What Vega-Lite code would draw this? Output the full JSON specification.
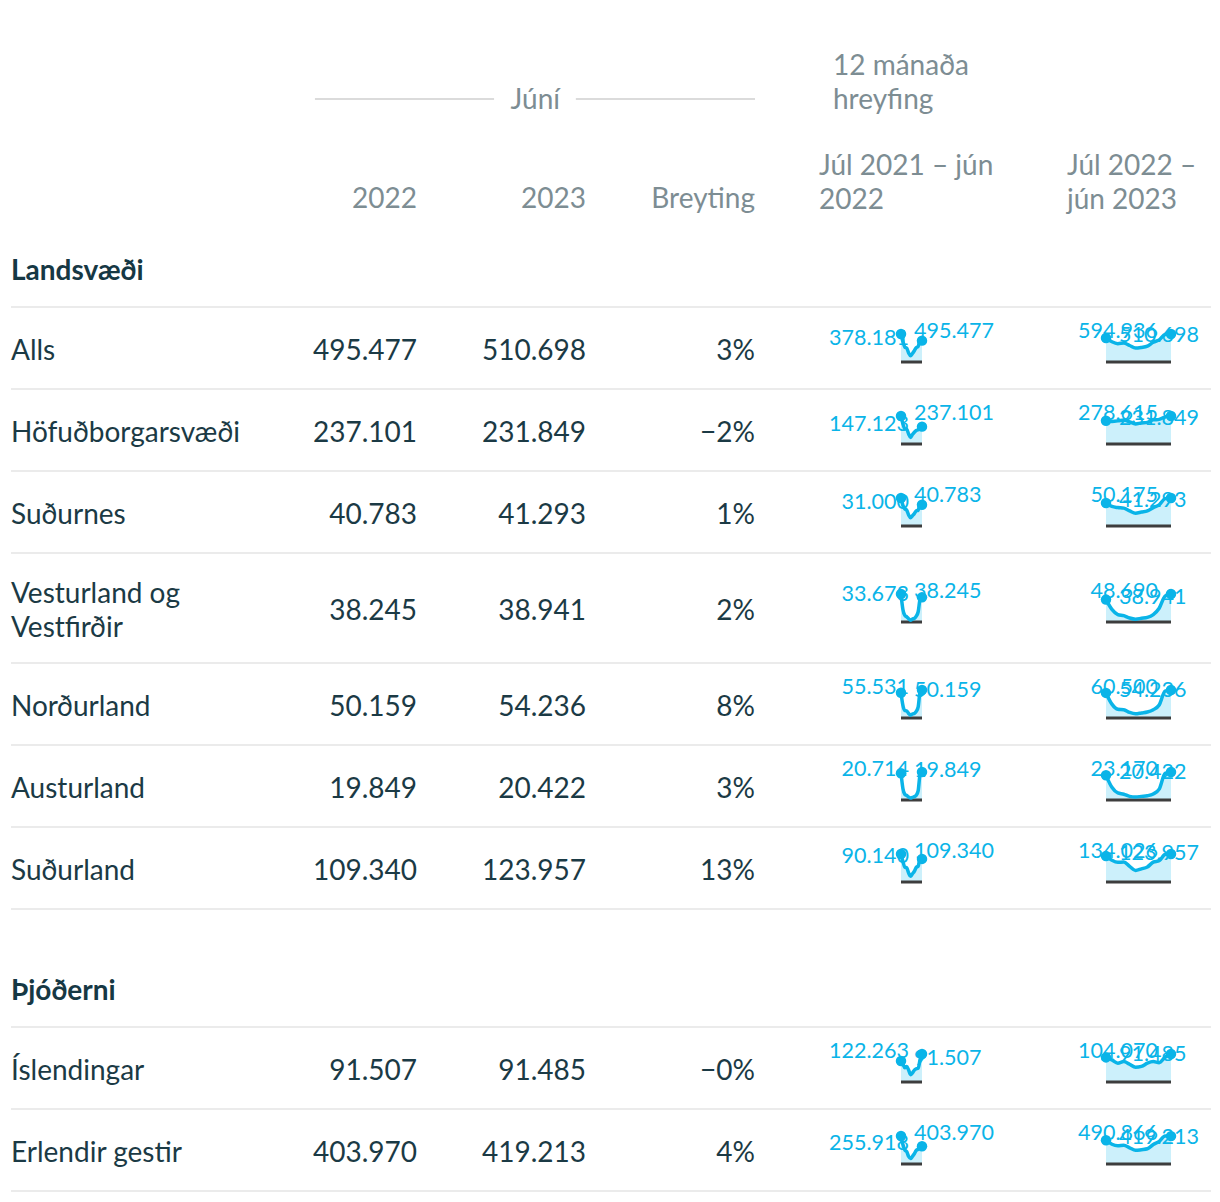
{
"$schema":"https://vega.github.io/schema/vega-lite/v6.json",
"background":"white",
"padding":{"left":10,"top":0,"right":0,"bottom":0},
"config":{"view":{"stroke":null},"axis":{"disable":true},
"text":{"font":"Lato","fontSize":28,"baseline":"middle","color":"#1b3a45","lineBreak":"\n","lineHeight":33.5},
"locale":{"number":{"decimal":",","thousands":".","grouping":[3],"currency":[""," kr."]}}},
"datasets":{
"tafla":[
{"nr":1,"s":"Alls","j22":495477,"j23":510698,"b":"3%"},
{"nr":2,"s":"Höfuðborgarsvæði","j22":237101,"j23":231849,"b":"−2%"},
{"nr":3,"s":"Suðurnes","j22":40783,"j23":41293,"b":"1%"},
{"nr":4,"s":"Vesturland og\nVestfirðir","j22":38245,"j23":38941,"b":"2%"},
{"nr":5,"s":"Norðurland","j22":50159,"j23":54236,"b":"8%"},
{"nr":6,"s":"Austurland","j22":19849,"j23":20422,"b":"3%"},
{"nr":7,"s":"Suðurland","j22":109340,"j23":123957,"b":"13%"},
{"nr":8,"s":"Íslendingar","j22":91507,"j23":91485,"b":"−0%"},
{"nr":9,"s":"Erlendir gestir","j22":403970,"j23":419213,"b":"4%"}
],
"spark":[
{"r":1,"p":1,"m":0,"v":378181},{"r":1,"p":1,"m":1,"v":390000},{"r":1,"p":1,"m":2,"v":275000},{"r":1,"p":1,"m":3,"v":255000},{"r":1,"p":1,"m":4,"v":200000},{"r":1,"p":1,"m":5,"v":150000},{"r":1,"p":1,"m":6,"v":110000},{"r":1,"p":1,"m":7,"v":160000},{"r":1,"p":1,"m":8,"v":245000},{"r":1,"p":1,"m":9,"v":265000},{"r":1,"p":1,"m":10,"v":360000},{"r":1,"p":1,"m":11,"v":495477},
{"r":1,"p":2,"m":0,"v":594936},{"r":1,"p":2,"m":1,"v":585000},{"r":1,"p":2,"m":2,"v":470000},{"r":1,"p":2,"m":3,"v":420000},{"r":1,"p":2,"m":4,"v":338000},{"r":1,"p":2,"m":5,"v":310000},{"r":1,"p":2,"m":6,"v":295000},{"r":1,"p":2,"m":7,"v":351000},{"r":1,"p":2,"m":8,"v":406000},{"r":1,"p":2,"m":9,"v":390000},{"r":1,"p":2,"m":10,"v":430000},{"r":1,"p":2,"m":11,"v":510698},
{"r":2,"p":1,"m":0,"v":147123},{"r":2,"p":1,"m":1,"v":160000},{"r":2,"p":1,"m":2,"v":120000},{"r":2,"p":1,"m":3,"v":115000},{"r":2,"p":1,"m":4,"v":100000},{"r":2,"p":1,"m":5,"v":80000},{"r":2,"p":1,"m":6,"v":55000},{"r":2,"p":1,"m":7,"v":85000},{"r":2,"p":1,"m":8,"v":125000},{"r":2,"p":1,"m":9,"v":130000},{"r":2,"p":1,"m":10,"v":170000},{"r":2,"p":1,"m":11,"v":237101},
{"r":2,"p":2,"m":0,"v":278615},{"r":2,"p":2,"m":1,"v":270000},{"r":2,"p":2,"m":2,"v":245000},{"r":2,"p":2,"m":3,"v":240000},{"r":2,"p":2,"m":4,"v":215000},{"r":2,"p":2,"m":5,"v":210000},{"r":2,"p":2,"m":6,"v":200000},{"r":2,"p":2,"m":7,"v":220000},{"r":2,"p":2,"m":8,"v":240000},{"r":2,"p":2,"m":9,"v":230000},{"r":2,"p":2,"m":10,"v":225000},{"r":2,"p":2,"m":11,"v":231849},
{"r":3,"p":1,"m":0,"v":31000},{"r":3,"p":1,"m":1,"v":32000},{"r":3,"p":1,"m":2,"v":23000},{"r":3,"p":1,"m":3,"v":22000},{"r":3,"p":1,"m":4,"v":18000},{"r":3,"p":1,"m":5,"v":15000},{"r":3,"p":1,"m":6,"v":12000},{"r":3,"p":1,"m":7,"v":16000},{"r":3,"p":1,"m":8,"v":23000},{"r":3,"p":1,"m":9,"v":25000},{"r":3,"p":1,"m":10,"v":30000},{"r":3,"p":1,"m":11,"v":40783},
{"r":3,"p":2,"m":0,"v":50175},{"r":3,"p":2,"m":1,"v":49000},{"r":3,"p":2,"m":2,"v":38000},{"r":3,"p":2,"m":3,"v":33000},{"r":3,"p":2,"m":4,"v":27000},{"r":3,"p":2,"m":5,"v":25000},{"r":3,"p":2,"m":6,"v":23000},{"r":3,"p":2,"m":7,"v":27000},{"r":3,"p":2,"m":8,"v":32000},{"r":3,"p":2,"m":9,"v":33000},{"r":3,"p":2,"m":10,"v":35000},{"r":3,"p":2,"m":11,"v":41293},
{"r":4,"p":1,"m":0,"v":33673},{"r":4,"p":1,"m":1,"v":31000},{"r":4,"p":1,"m":2,"v":14000},{"r":4,"p":1,"m":3,"v":8000},{"r":4,"p":1,"m":4,"v":5000},{"r":4,"p":1,"m":5,"v":4000},{"r":4,"p":1,"m":6,"v":2500},{"r":4,"p":1,"m":7,"v":4500},{"r":4,"p":1,"m":8,"v":7000},{"r":4,"p":1,"m":9,"v":9000},{"r":4,"p":1,"m":10,"v":17000},{"r":4,"p":1,"m":11,"v":38245},
{"r":4,"p":2,"m":0,"v":48690},{"r":4,"p":2,"m":1,"v":45000},{"r":4,"p":2,"m":2,"v":24000},{"r":4,"p":2,"m":3,"v":13000},{"r":4,"p":2,"m":4,"v":8000},{"r":4,"p":2,"m":5,"v":6500},{"r":4,"p":2,"m":6,"v":5000},{"r":4,"p":2,"m":7,"v":7000},{"r":4,"p":2,"m":8,"v":11000},{"r":4,"p":2,"m":9,"v":13000},{"r":4,"p":2,"m":10,"v":22000},{"r":4,"p":2,"m":11,"v":38941},
{"r":5,"p":1,"m":0,"v":55531},{"r":5,"p":1,"m":1,"v":52000},{"r":5,"p":1,"m":2,"v":22000},{"r":5,"p":1,"m":3,"v":13000},{"r":5,"p":1,"m":4,"v":9000},{"r":5,"p":1,"m":5,"v":8000},{"r":5,"p":1,"m":6,"v":5500},{"r":5,"p":1,"m":7,"v":9000},{"r":5,"p":1,"m":8,"v":14000},{"r":5,"p":1,"m":9,"v":15000},{"r":5,"p":1,"m":10,"v":25000},{"r":5,"p":1,"m":11,"v":50159},
{"r":5,"p":2,"m":0,"v":60500},{"r":5,"p":2,"m":1,"v":58000},{"r":5,"p":2,"m":2,"v":28000},{"r":5,"p":2,"m":3,"v":18000},{"r":5,"p":2,"m":4,"v":13000},{"r":5,"p":2,"m":5,"v":11000},{"r":5,"p":2,"m":6,"v":9000},{"r":5,"p":2,"m":7,"v":12000},{"r":5,"p":2,"m":8,"v":18000},{"r":5,"p":2,"m":9,"v":19000},{"r":5,"p":2,"m":10,"v":30000},{"r":5,"p":2,"m":11,"v":54236},
{"r":6,"p":1,"m":0,"v":20714},{"r":6,"p":1,"m":1,"v":19000},{"r":6,"p":1,"m":2,"v":7000},{"r":6,"p":1,"m":3,"v":3500},{"r":6,"p":1,"m":4,"v":2500},{"r":6,"p":1,"m":5,"v":2000},{"r":6,"p":1,"m":6,"v":1400},{"r":6,"p":1,"m":7,"v":2200},{"r":6,"p":1,"m":8,"v":3300},{"r":6,"p":1,"m":9,"v":4200},{"r":6,"p":1,"m":10,"v":8500},{"r":6,"p":1,"m":11,"v":19849},
{"r":6,"p":2,"m":0,"v":23170},{"r":6,"p":2,"m":1,"v":22000},{"r":6,"p":2,"m":2,"v":9000},{"r":6,"p":2,"m":3,"v":5000},{"r":6,"p":2,"m":4,"v":3500},{"r":6,"p":2,"m":5,"v":3000},{"r":6,"p":2,"m":6,"v":2500},{"r":6,"p":2,"m":7,"v":3000},{"r":6,"p":2,"m":8,"v":4800},{"r":6,"p":2,"m":9,"v":5800},{"r":6,"p":2,"m":10,"v":10500},{"r":6,"p":2,"m":11,"v":20422},
{"r":7,"p":1,"m":0,"v":90140},{"r":7,"p":1,"m":1,"v":92000},{"r":7,"p":1,"m":2,"v":62000},{"r":7,"p":1,"m":3,"v":57000},{"r":7,"p":1,"m":4,"v":42000},{"r":7,"p":1,"m":5,"v":32000},{"r":7,"p":1,"m":6,"v":22000},{"r":7,"p":1,"m":7,"v":35000},{"r":7,"p":1,"m":8,"v":55000},{"r":7,"p":1,"m":9,"v":58000},{"r":7,"p":1,"m":10,"v":80000},{"r":7,"p":1,"m":11,"v":109340},
{"r":7,"p":2,"m":0,"v":134026},{"r":7,"p":2,"m":1,"v":132000},{"r":7,"p":2,"m":2,"v":102000},{"r":7,"p":2,"m":3,"v":95000},{"r":7,"p":2,"m":4,"v":72000},{"r":7,"p":2,"m":5,"v":63000},{"r":7,"p":2,"m":6,"v":55000},{"r":7,"p":2,"m":7,"v":75000},{"r":7,"p":2,"m":8,"v":96000},{"r":7,"p":2,"m":9,"v":94000},{"r":7,"p":2,"m":10,"v":104000},{"r":7,"p":2,"m":11,"v":123957},
{"r":8,"p":1,"m":0,"v":122263},{"r":8,"p":1,"m":1,"v":98000},{"r":8,"p":1,"m":2,"v":60000},{"r":8,"p":1,"m":3,"v":58000},{"r":8,"p":1,"m":4,"v":52000},{"r":8,"p":1,"m":5,"v":40000},{"r":8,"p":1,"m":6,"v":32000},{"r":8,"p":1,"m":7,"v":52000},{"r":8,"p":1,"m":8,"v":68000},{"r":8,"p":1,"m":9,"v":62000},{"r":8,"p":1,"m":10,"v":78000},{"r":8,"p":1,"m":11,"v":91507},
{"r":8,"p":2,"m":0,"v":104070},{"r":8,"p":2,"m":1,"v":92000},{"r":8,"p":2,"m":2,"v":72000},{"r":8,"p":2,"m":3,"v":76000},{"r":8,"p":2,"m":4,"v":70000},{"r":8,"p":2,"m":5,"v":58000},{"r":8,"p":2,"m":6,"v":55000},{"r":8,"p":2,"m":7,"v":66000},{"r":8,"p":2,"m":8,"v":76000},{"r":8,"p":2,"m":9,"v":70000},{"r":8,"p":2,"m":10,"v":82000},{"r":8,"p":2,"m":11,"v":91485},
{"r":9,"p":1,"m":0,"v":255918},{"r":9,"p":1,"m":1,"v":292000},{"r":9,"p":1,"m":2,"v":215000},{"r":9,"p":1,"m":3,"v":197000},{"r":9,"p":1,"m":4,"v":148000},{"r":9,"p":1,"m":5,"v":110000},{"r":9,"p":1,"m":6,"v":78000},{"r":9,"p":1,"m":7,"v":108000},{"r":9,"p":1,"m":8,"v":177000},{"r":9,"p":1,"m":9,"v":203000},{"r":9,"p":1,"m":10,"v":282000},{"r":9,"p":1,"m":11,"v":403970},
{"r":9,"p":2,"m":0,"v":490866},{"r":9,"p":2,"m":1,"v":493000},{"r":9,"p":2,"m":2,"v":398000},{"r":9,"p":2,"m":3,"v":344000},{"r":9,"p":2,"m":4,"v":268000},{"r":9,"p":2,"m":5,"v":252000},{"r":9,"p":2,"m":6,"v":240000},{"r":9,"p":2,"m":7,"v":285000},{"r":9,"p":2,"m":8,"v":330000},{"r":9,"p":2,"m":9,"v":320000},{"r":9,"p":2,"m":10,"v":348000},{"r":9,"p":2,"m":11,"v":419213}
]},
"spacing":0,
"vconcat":[
{"hconcat":[
 {"width":744,"height":230,"layer":[
  {"data":{"values":[{"t":"2022"},{"t":"2023"},{"t":"Breyting"}]},"mark":{"type":"text","align":"right","baseline":"top","color":"#7d8d93"},"encoding":{"x":{"field":"t","type":"nominal","bandPosition":1,"scale":{"type":"band","domain":["2022","2023","Breyting"],"paddingInner":0,"paddingOuter":0.7012,"align":1}},"y":{"datum":"e","bandPosition":0,"scale":{"type":"band","domain":["a","b","c","d","e"],"paddingInner":0,"paddingOuter":0.9586,"align":0.8376}},"text":{"field":"t"}}},
  {"data":{"values":[{"t":"Júní"}]},"mark":{"type":"text","align":"center","baseline":"top","color":"#7d8d93"},"encoding":{"x":{"datum":"2023","bandPosition":0.7},"y":{"datum":"b","bandPosition":0},"text":{"field":"t"}}},
  {"data":{"values":[{}]},"mark":{"type":"rule","color":"#cfcfcf","strokeWidth":1.5},"encoding":{"x":{"datum":"2022","bandPosition":0.396},"x2":{"datum":"2023","bandPosition":0.456},"y":{"datum":"b","bandPosition":0.37}}},
  {"data":{"values":[{}]},"mark":{"type":"rule","color":"#cfcfcf","strokeWidth":1.5},"encoding":{"x":{"datum":"2023","bandPosition":0.94},"x2":{"datum":"Breyting","bandPosition":1},"y":{"datum":"b","bandPosition":0.37}}}
 ]},
 {"width":65,"height":230,"data":{"values":[]},"mark":"point"},
 {"width":248,"height":230,"layer":[
  {"data":{"values":[{"t":"12 mánaða\nhreyfing"}]},"mark":{"type":"text","align":"left","baseline":"top","color":"#7d8d93","dx":13},"encoding":{"x":{"value":0},"y":{"datum":"a","bandPosition":0,"scale":{"type":"band","domain":["a","b","c","d","e"],"paddingInner":0,"paddingOuter":0.9586,"align":0.8376}},"text":{"field":"t"}}},
  {"data":{"values":[{"t":"Júl 2021 – jún\n2022"}]},"mark":{"type":"text","align":"left","baseline":"top","color":"#7d8d93","dx":-1},"encoding":{"x":{"value":0},"y":{"datum":"d","bandPosition":0},"text":{"field":"t"}}}
 ]},
 {"width":143,"height":230,"layer":[
  {"data":{"values":[{"t":"Júl 2022 –\njún 2023"}]},"mark":{"type":"text","align":"left","baseline":"top","color":"#7d8d93","dx":-1},"encoding":{"x":{"value":0},"y":{"datum":"d","bandPosition":0,"scale":{"type":"band","domain":["a","b","c","d","e"],"paddingInner":0,"paddingOuter":0.9586,"align":0.8376}},"text":{"field":"t"}}}
 ]}
],"spacing":0,"bounds":"flush"},
{"width":744,"height":76,"data":{"values":[{"t":"Landsvæði"}]},"mark":{"type":"text","align":"left","fontWeight":"bold","fontSize":28,"dy":4,"color":"#163844"},"encoding":{"x":{"value":0},"text":{"field":"t"}}},
{"width":1200,"height":2,"data":{"values":[{}]},"mark":{"type":"rule","color":"#ebebeb","strokeWidth":2},"encoding":{"y":{"value":1}}},
{"hconcat":[
 {"width":744,"height":80,"data":{"name":"tafla"},"transform":[{"filter":"datum.nr==1"}],"layer":[
  {"mark":{"type":"text","align":"left","dy":4},"encoding":{"x":{"value":0},"text":{"field":"s"}}},
  {"mark":{"type":"text","align":"right","dy":4},"encoding":{"x":{"datum":"2022","bandPosition":1,"scale":{"type":"band","domain":["2022","2023","Breyting"],"paddingInner":0,"paddingOuter":0.7012,"align":1}},"text":{"field":"j22","type":"quantitative","format":",.0f"}}},
  {"mark":{"type":"text","align":"right","dy":4},"encoding":{"x":{"datum":"2023","bandPosition":1},"text":{"field":"j23","type":"quantitative","format":",.0f"}}},
  {"mark":{"type":"text","align":"right","dy":4},"encoding":{"x":{"datum":"Breyting","bandPosition":1},"text":{"field":"b"}}}]},
 {"width":146,"height":28,"data":{"values":[]},"mark":"point"},
 {"width":21,"height":28,"data":{"name":"spark"},"transform":[{"filter":"datum.r==1&&datum.p==1"}],"encoding":{"x":{"field":"m","type":"quantitative","scale":{"domain":[0,11],"reverse":true,"nice":false}},"y":{"field":"v","type":"quantitative","scale":{"zero":true,"nice":false}}},"layer":[
  {"mark":{"type":"area","color":"#ccf0fb","interpolate":"monotone"}},
  {"transform":[{"filter":"datum.m==0"}],"mark":{"type":"rule","color":"#3d3d3d","strokeWidth":3},"encoding":{"x":{"datum":0},"x2":{"datum":11},"y":{"datum":0}}},
  {"mark":{"type":"line","color":"#0ab4e8","strokeWidth":3.5,"interpolate":"monotone"}},
  {"transform":[{"filter":"datum.m==0||datum.m==11"}],"mark":{"type":"circle","color":"#0ab4e8","size":110,"opacity":1}},
  {"transform":[{"filter":"datum.m==0"}],"mark":{"type":"text","align":"right","dx":-13,"dy":-2,"fontSize":21.5,"color":"#0ab4e8"},"encoding":{"text":{"field":"v","type":"quantitative","format":",.0f"}}},
  {"transform":[{"filter":"datum.m==11"}],"mark":{"type":"text","align":"left","dx":13,"dy":-2,"fontSize":21.5,"color":"#0ab4e8"},"encoding":{"text":{"field":"v","type":"quantitative","format":",.0f"}}}]},
 {"width":184,"height":28,"data":{"values":[]},"mark":"point"},
 {"width":65,"height":28,"data":{"name":"spark"},"transform":[{"filter":"datum.r==1&&datum.p==2"}],"encoding":{"x":{"field":"m","type":"quantitative","scale":{"domain":[0,11],"reverse":true,"nice":false}},"y":{"field":"v","type":"quantitative","scale":{"zero":true,"nice":false}}},"layer":[
  {"mark":{"type":"area","color":"#ccf0fb","interpolate":"monotone"}},
  {"transform":[{"filter":"datum.m==0"}],"mark":{"type":"rule","color":"#3d3d3d","strokeWidth":3},"encoding":{"x":{"datum":0},"x2":{"datum":11},"y":{"datum":0}}},
  {"mark":{"type":"line","color":"#0ab4e8","strokeWidth":3.5,"interpolate":"monotone"}},
  {"transform":[{"filter":"datum.m==0||datum.m==11"}],"mark":{"type":"circle","color":"#0ab4e8","size":110,"opacity":1}},
  {"transform":[{"filter":"datum.m==0"}],"mark":{"type":"text","align":"right","dx":-13,"dy":-2,"fontSize":21.5,"color":"#0ab4e8"},"encoding":{"text":{"field":"v","type":"quantitative","format":",.0f"}}},
  {"transform":[{"filter":"datum.m==11"}],"mark":{"type":"text","align":"left","dx":13,"dy":-2,"fontSize":21.5,"color":"#0ab4e8"},"encoding":{"text":{"field":"v","type":"quantitative","format":",.0f"}}}]}
],"spacing":0,"bounds":"flush","center":true},
{"width":1200,"height":2,"data":{"values":[{}]},"mark":{"type":"rule","color":"#ebebeb","strokeWidth":2},"encoding":{"y":{"value":1}}},
{"hconcat":[
 {"width":744,"height":80,"data":{"name":"tafla"},"transform":[{"filter":"datum.nr==2"}],"layer":[
  {"mark":{"type":"text","align":"left","dy":4},"encoding":{"x":{"value":0},"text":{"field":"s"}}},
  {"mark":{"type":"text","align":"right","dy":4},"encoding":{"x":{"datum":"2022","bandPosition":1,"scale":{"type":"band","domain":["2022","2023","Breyting"],"paddingInner":0,"paddingOuter":0.7012,"align":1}},"text":{"field":"j22","type":"quantitative","format":",.0f"}}},
  {"mark":{"type":"text","align":"right","dy":4},"encoding":{"x":{"datum":"2023","bandPosition":1},"text":{"field":"j23","type":"quantitative","format":",.0f"}}},
  {"mark":{"type":"text","align":"right","dy":4},"encoding":{"x":{"datum":"Breyting","bandPosition":1},"text":{"field":"b"}}}]},
 {"width":146,"height":28,"data":{"values":[]},"mark":"point"},
 {"width":21,"height":28,"data":{"name":"spark"},"transform":[{"filter":"datum.r==2&&datum.p==1"}],"encoding":{"x":{"field":"m","type":"quantitative","scale":{"domain":[0,11],"reverse":true,"nice":false}},"y":{"field":"v","type":"quantitative","scale":{"zero":true,"nice":false}}},"layer":[
  {"mark":{"type":"area","color":"#ccf0fb","interpolate":"monotone"}},
  {"transform":[{"filter":"datum.m==0"}],"mark":{"type":"rule","color":"#3d3d3d","strokeWidth":3},"encoding":{"x":{"datum":0},"x2":{"datum":11},"y":{"datum":0}}},
  {"mark":{"type":"line","color":"#0ab4e8","strokeWidth":3.5,"interpolate":"monotone"}},
  {"transform":[{"filter":"datum.m==0||datum.m==11"}],"mark":{"type":"circle","color":"#0ab4e8","size":110,"opacity":1}},
  {"transform":[{"filter":"datum.m==0"}],"mark":{"type":"text","align":"right","dx":-13,"dy":-2,"fontSize":21.5,"color":"#0ab4e8"},"encoding":{"text":{"field":"v","type":"quantitative","format":",.0f"}}},
  {"transform":[{"filter":"datum.m==11"}],"mark":{"type":"text","align":"left","dx":13,"dy":-2,"fontSize":21.5,"color":"#0ab4e8"},"encoding":{"text":{"field":"v","type":"quantitative","format":",.0f"}}}]},
 {"width":184,"height":28,"data":{"values":[]},"mark":"point"},
 {"width":65,"height":28,"data":{"name":"spark"},"transform":[{"filter":"datum.r==2&&datum.p==2"}],"encoding":{"x":{"field":"m","type":"quantitative","scale":{"domain":[0,11],"reverse":true,"nice":false}},"y":{"field":"v","type":"quantitative","scale":{"zero":true,"nice":false}}},"layer":[
  {"mark":{"type":"area","color":"#ccf0fb","interpolate":"monotone"}},
  {"transform":[{"filter":"datum.m==0"}],"mark":{"type":"rule","color":"#3d3d3d","strokeWidth":3},"encoding":{"x":{"datum":0},"x2":{"datum":11},"y":{"datum":0}}},
  {"mark":{"type":"line","color":"#0ab4e8","strokeWidth":3.5,"interpolate":"monotone"}},
  {"transform":[{"filter":"datum.m==0||datum.m==11"}],"mark":{"type":"circle","color":"#0ab4e8","size":110,"opacity":1}},
  {"transform":[{"filter":"datum.m==0"}],"mark":{"type":"text","align":"right","dx":-13,"dy":-2,"fontSize":21.5,"color":"#0ab4e8"},"encoding":{"text":{"field":"v","type":"quantitative","format":",.0f"}}},
  {"transform":[{"filter":"datum.m==11"}],"mark":{"type":"text","align":"left","dx":13,"dy":-2,"fontSize":21.5,"color":"#0ab4e8"},"encoding":{"text":{"field":"v","type":"quantitative","format":",.0f"}}}]}
],"spacing":0,"bounds":"flush","center":true},
{"width":1200,"height":2,"data":{"values":[{}]},"mark":{"type":"rule","color":"#ebebeb","strokeWidth":2},"encoding":{"y":{"value":1}}},
{"hconcat":[
 {"width":744,"height":80,"data":{"name":"tafla"},"transform":[{"filter":"datum.nr==3"}],"layer":[
  {"mark":{"type":"text","align":"left","dy":4},"encoding":{"x":{"value":0},"text":{"field":"s"}}},
  {"mark":{"type":"text","align":"right","dy":4},"encoding":{"x":{"datum":"2022","bandPosition":1,"scale":{"type":"band","domain":["2022","2023","Breyting"],"paddingInner":0,"paddingOuter":0.7012,"align":1}},"text":{"field":"j22","type":"quantitative","format":",.0f"}}},
  {"mark":{"type":"text","align":"right","dy":4},"encoding":{"x":{"datum":"2023","bandPosition":1},"text":{"field":"j23","type":"quantitative","format":",.0f"}}},
  {"mark":{"type":"text","align":"right","dy":4},"encoding":{"x":{"datum":"Breyting","bandPosition":1},"text":{"field":"b"}}}]},
 {"width":146,"height":28,"data":{"values":[]},"mark":"point"},
 {"width":21,"height":28,"data":{"name":"spark"},"transform":[{"filter":"datum.r==3&&datum.p==1"}],"encoding":{"x":{"field":"m","type":"quantitative","scale":{"domain":[0,11],"reverse":true,"nice":false}},"y":{"field":"v","type":"quantitative","scale":{"zero":true,"nice":false}}},"layer":[
  {"mark":{"type":"area","color":"#ccf0fb","interpolate":"monotone"}},
  {"transform":[{"filter":"datum.m==0"}],"mark":{"type":"rule","color":"#3d3d3d","strokeWidth":3},"encoding":{"x":{"datum":0},"x2":{"datum":11},"y":{"datum":0}}},
  {"mark":{"type":"line","color":"#0ab4e8","strokeWidth":3.5,"interpolate":"monotone"}},
  {"transform":[{"filter":"datum.m==0||datum.m==11"}],"mark":{"type":"circle","color":"#0ab4e8","size":110,"opacity":1}},
  {"transform":[{"filter":"datum.m==0"}],"mark":{"type":"text","align":"right","dx":-13,"dy":-2,"fontSize":21.5,"color":"#0ab4e8"},"encoding":{"text":{"field":"v","type":"quantitative","format":",.0f"}}},
  {"transform":[{"filter":"datum.m==11"}],"mark":{"type":"text","align":"left","dx":13,"dy":-2,"fontSize":21.5,"color":"#0ab4e8"},"encoding":{"text":{"field":"v","type":"quantitative","format":",.0f"}}}]},
 {"width":184,"height":28,"data":{"values":[]},"mark":"point"},
 {"width":65,"height":28,"data":{"name":"spark"},"transform":[{"filter":"datum.r==3&&datum.p==2"}],"encoding":{"x":{"field":"m","type":"quantitative","scale":{"domain":[0,11],"reverse":true,"nice":false}},"y":{"field":"v","type":"quantitative","scale":{"zero":true,"nice":false}}},"layer":[
  {"mark":{"type":"area","color":"#ccf0fb","interpolate":"monotone"}},
  {"transform":[{"filter":"datum.m==0"}],"mark":{"type":"rule","color":"#3d3d3d","strokeWidth":3},"encoding":{"x":{"datum":0},"x2":{"datum":11},"y":{"datum":0}}},
  {"mark":{"type":"line","color":"#0ab4e8","strokeWidth":3.5,"interpolate":"monotone"}},
  {"transform":[{"filter":"datum.m==0||datum.m==11"}],"mark":{"type":"circle","color":"#0ab4e8","size":110,"opacity":1}},
  {"transform":[{"filter":"datum.m==0"}],"mark":{"type":"text","align":"right","dx":-13,"dy":-2,"fontSize":21.5,"color":"#0ab4e8"},"encoding":{"text":{"field":"v","type":"quantitative","format":",.0f"}}},
  {"transform":[{"filter":"datum.m==11"}],"mark":{"type":"text","align":"left","dx":13,"dy":-2,"fontSize":21.5,"color":"#0ab4e8"},"encoding":{"text":{"field":"v","type":"quantitative","format":",.0f"}}}]}
],"spacing":0,"bounds":"flush","center":true},
{"width":1200,"height":2,"data":{"values":[{}]},"mark":{"type":"rule","color":"#ebebeb","strokeWidth":2},"encoding":{"y":{"value":1}}},
{"hconcat":[
 {"width":744,"height":108,"data":{"name":"tafla"},"transform":[{"filter":"datum.nr==4"}],"layer":[
  {"mark":{"type":"text","align":"left","dy":-13},"encoding":{"x":{"value":0},"text":{"field":"s"}}},
  {"mark":{"type":"text","align":"right","dy":4},"encoding":{"x":{"datum":"2022","bandPosition":1,"scale":{"type":"band","domain":["2022","2023","Breyting"],"paddingInner":0,"paddingOuter":0.7012,"align":1}},"text":{"field":"j22","type":"quantitative","format":",.0f"}}},
  {"mark":{"type":"text","align":"right","dy":4},"encoding":{"x":{"datum":"2023","bandPosition":1},"text":{"field":"j23","type":"quantitative","format":",.0f"}}},
  {"mark":{"type":"text","align":"right","dy":4},"encoding":{"x":{"datum":"Breyting","bandPosition":1},"text":{"field":"b"}}}]},
 {"width":146,"height":28,"data":{"values":[]},"mark":"point"},
 {"width":21,"height":28,"data":{"name":"spark"},"transform":[{"filter":"datum.r==4&&datum.p==1"}],"encoding":{"x":{"field":"m","type":"quantitative","scale":{"domain":[0,11],"reverse":true,"nice":false}},"y":{"field":"v","type":"quantitative","scale":{"zero":true,"nice":false}}},"layer":[
  {"mark":{"type":"area","color":"#ccf0fb","interpolate":"monotone"}},
  {"transform":[{"filter":"datum.m==0"}],"mark":{"type":"rule","color":"#3d3d3d","strokeWidth":3},"encoding":{"x":{"datum":0},"x2":{"datum":11},"y":{"datum":0}}},
  {"mark":{"type":"line","color":"#0ab4e8","strokeWidth":3.5,"interpolate":"monotone"}},
  {"transform":[{"filter":"datum.m==0||datum.m==11"}],"mark":{"type":"circle","color":"#0ab4e8","size":110,"opacity":1}},
  {"transform":[{"filter":"datum.m==0"}],"mark":{"type":"text","align":"right","dx":-13,"dy":-2,"fontSize":21.5,"color":"#0ab4e8"},"encoding":{"text":{"field":"v","type":"quantitative","format":",.0f"}}},
  {"transform":[{"filter":"datum.m==11"}],"mark":{"type":"text","align":"left","dx":13,"dy":-2,"fontSize":21.5,"color":"#0ab4e8"},"encoding":{"text":{"field":"v","type":"quantitative","format":",.0f"}}}]},
 {"width":184,"height":28,"data":{"values":[]},"mark":"point"},
 {"width":65,"height":28,"data":{"name":"spark"},"transform":[{"filter":"datum.r==4&&datum.p==2"}],"encoding":{"x":{"field":"m","type":"quantitative","scale":{"domain":[0,11],"reverse":true,"nice":false}},"y":{"field":"v","type":"quantitative","scale":{"zero":true,"nice":false}}},"layer":[
  {"mark":{"type":"area","color":"#ccf0fb","interpolate":"monotone"}},
  {"transform":[{"filter":"datum.m==0"}],"mark":{"type":"rule","color":"#3d3d3d","strokeWidth":3},"encoding":{"x":{"datum":0},"x2":{"datum":11},"y":{"datum":0}}},
  {"mark":{"type":"line","color":"#0ab4e8","strokeWidth":3.5,"interpolate":"monotone"}},
  {"transform":[{"filter":"datum.m==0||datum.m==11"}],"mark":{"type":"circle","color":"#0ab4e8","size":110,"opacity":1}},
  {"transform":[{"filter":"datum.m==0"}],"mark":{"type":"text","align":"right","dx":-13,"dy":-2,"fontSize":21.5,"color":"#0ab4e8"},"encoding":{"text":{"field":"v","type":"quantitative","format":",.0f"}}},
  {"transform":[{"filter":"datum.m==11"}],"mark":{"type":"text","align":"left","dx":13,"dy":-2,"fontSize":21.5,"color":"#0ab4e8"},"encoding":{"text":{"field":"v","type":"quantitative","format":",.0f"}}}]}
],"spacing":0,"bounds":"flush","center":true},
{"width":1200,"height":2,"data":{"values":[{}]},"mark":{"type":"rule","color":"#ebebeb","strokeWidth":2},"encoding":{"y":{"value":1}}},
{"hconcat":[
 {"width":744,"height":80,"data":{"name":"tafla"},"transform":[{"filter":"datum.nr==5"}],"layer":[
  {"mark":{"type":"text","align":"left","dy":4},"encoding":{"x":{"value":0},"text":{"field":"s"}}},
  {"mark":{"type":"text","align":"right","dy":4},"encoding":{"x":{"datum":"2022","bandPosition":1,"scale":{"type":"band","domain":["2022","2023","Breyting"],"paddingInner":0,"paddingOuter":0.7012,"align":1}},"text":{"field":"j22","type":"quantitative","format":",.0f"}}},
  {"mark":{"type":"text","align":"right","dy":4},"encoding":{"x":{"datum":"2023","bandPosition":1},"text":{"field":"j23","type":"quantitative","format":",.0f"}}},
  {"mark":{"type":"text","align":"right","dy":4},"encoding":{"x":{"datum":"Breyting","bandPosition":1},"text":{"field":"b"}}}]},
 {"width":146,"height":28,"data":{"values":[]},"mark":"point"},
 {"width":21,"height":28,"data":{"name":"spark"},"transform":[{"filter":"datum.r==5&&datum.p==1"}],"encoding":{"x":{"field":"m","type":"quantitative","scale":{"domain":[0,11],"reverse":true,"nice":false}},"y":{"field":"v","type":"quantitative","scale":{"zero":true,"nice":false}}},"layer":[
  {"mark":{"type":"area","color":"#ccf0fb","interpolate":"monotone"}},
  {"transform":[{"filter":"datum.m==0"}],"mark":{"type":"rule","color":"#3d3d3d","strokeWidth":3},"encoding":{"x":{"datum":0},"x2":{"datum":11},"y":{"datum":0}}},
  {"mark":{"type":"line","color":"#0ab4e8","strokeWidth":3.5,"interpolate":"monotone"}},
  {"transform":[{"filter":"datum.m==0||datum.m==11"}],"mark":{"type":"circle","color":"#0ab4e8","size":110,"opacity":1}},
  {"transform":[{"filter":"datum.m==0"}],"mark":{"type":"text","align":"right","dx":-13,"dy":-2,"fontSize":21.5,"color":"#0ab4e8"},"encoding":{"text":{"field":"v","type":"quantitative","format":",.0f"}}},
  {"transform":[{"filter":"datum.m==11"}],"mark":{"type":"text","align":"left","dx":13,"dy":-2,"fontSize":21.5,"color":"#0ab4e8"},"encoding":{"text":{"field":"v","type":"quantitative","format":",.0f"}}}]},
 {"width":184,"height":28,"data":{"values":[]},"mark":"point"},
 {"width":65,"height":28,"data":{"name":"spark"},"transform":[{"filter":"datum.r==5&&datum.p==2"}],"encoding":{"x":{"field":"m","type":"quantitative","scale":{"domain":[0,11],"reverse":true,"nice":false}},"y":{"field":"v","type":"quantitative","scale":{"zero":true,"nice":false}}},"layer":[
  {"mark":{"type":"area","color":"#ccf0fb","interpolate":"monotone"}},
  {"transform":[{"filter":"datum.m==0"}],"mark":{"type":"rule","color":"#3d3d3d","strokeWidth":3},"encoding":{"x":{"datum":0},"x2":{"datum":11},"y":{"datum":0}}},
  {"mark":{"type":"line","color":"#0ab4e8","strokeWidth":3.5,"interpolate":"monotone"}},
  {"transform":[{"filter":"datum.m==0||datum.m==11"}],"mark":{"type":"circle","color":"#0ab4e8","size":110,"opacity":1}},
  {"transform":[{"filter":"datum.m==0"}],"mark":{"type":"text","align":"right","dx":-13,"dy":-2,"fontSize":21.5,"color":"#0ab4e8"},"encoding":{"text":{"field":"v","type":"quantitative","format":",.0f"}}},
  {"transform":[{"filter":"datum.m==11"}],"mark":{"type":"text","align":"left","dx":13,"dy":-2,"fontSize":21.5,"color":"#0ab4e8"},"encoding":{"text":{"field":"v","type":"quantitative","format":",.0f"}}}]}
],"spacing":0,"bounds":"flush","center":true},
{"width":1200,"height":2,"data":{"values":[{}]},"mark":{"type":"rule","color":"#ebebeb","strokeWidth":2},"encoding":{"y":{"value":1}}},
{"hconcat":[
 {"width":744,"height":80,"data":{"name":"tafla"},"transform":[{"filter":"datum.nr==6"}],"layer":[
  {"mark":{"type":"text","align":"left","dy":4},"encoding":{"x":{"value":0},"text":{"field":"s"}}},
  {"mark":{"type":"text","align":"right","dy":4},"encoding":{"x":{"datum":"2022","bandPosition":1,"scale":{"type":"band","domain":["2022","2023","Breyting"],"paddingInner":0,"paddingOuter":0.7012,"align":1}},"text":{"field":"j22","type":"quantitative","format":",.0f"}}},
  {"mark":{"type":"text","align":"right","dy":4},"encoding":{"x":{"datum":"2023","bandPosition":1},"text":{"field":"j23","type":"quantitative","format":",.0f"}}},
  {"mark":{"type":"text","align":"right","dy":4},"encoding":{"x":{"datum":"Breyting","bandPosition":1},"text":{"field":"b"}}}]},
 {"width":146,"height":28,"data":{"values":[]},"mark":"point"},
 {"width":21,"height":28,"data":{"name":"spark"},"transform":[{"filter":"datum.r==6&&datum.p==1"}],"encoding":{"x":{"field":"m","type":"quantitative","scale":{"domain":[0,11],"reverse":true,"nice":false}},"y":{"field":"v","type":"quantitative","scale":{"zero":true,"nice":false}}},"layer":[
  {"mark":{"type":"area","color":"#ccf0fb","interpolate":"monotone"}},
  {"transform":[{"filter":"datum.m==0"}],"mark":{"type":"rule","color":"#3d3d3d","strokeWidth":3},"encoding":{"x":{"datum":0},"x2":{"datum":11},"y":{"datum":0}}},
  {"mark":{"type":"line","color":"#0ab4e8","strokeWidth":3.5,"interpolate":"monotone"}},
  {"transform":[{"filter":"datum.m==0||datum.m==11"}],"mark":{"type":"circle","color":"#0ab4e8","size":110,"opacity":1}},
  {"transform":[{"filter":"datum.m==0"}],"mark":{"type":"text","align":"right","dx":-13,"dy":-2,"fontSize":21.5,"color":"#0ab4e8"},"encoding":{"text":{"field":"v","type":"quantitative","format":",.0f"}}},
  {"transform":[{"filter":"datum.m==11"}],"mark":{"type":"text","align":"left","dx":13,"dy":-2,"fontSize":21.5,"color":"#0ab4e8"},"encoding":{"text":{"field":"v","type":"quantitative","format":",.0f"}}}]},
 {"width":184,"height":28,"data":{"values":[]},"mark":"point"},
 {"width":65,"height":28,"data":{"name":"spark"},"transform":[{"filter":"datum.r==6&&datum.p==2"}],"encoding":{"x":{"field":"m","type":"quantitative","scale":{"domain":[0,11],"reverse":true,"nice":false}},"y":{"field":"v","type":"quantitative","scale":{"zero":true,"nice":false}}},"layer":[
  {"mark":{"type":"area","color":"#ccf0fb","interpolate":"monotone"}},
  {"transform":[{"filter":"datum.m==0"}],"mark":{"type":"rule","color":"#3d3d3d","strokeWidth":3},"encoding":{"x":{"datum":0},"x2":{"datum":11},"y":{"datum":0}}},
  {"mark":{"type":"line","color":"#0ab4e8","strokeWidth":3.5,"interpolate":"monotone"}},
  {"transform":[{"filter":"datum.m==0||datum.m==11"}],"mark":{"type":"circle","color":"#0ab4e8","size":110,"opacity":1}},
  {"transform":[{"filter":"datum.m==0"}],"mark":{"type":"text","align":"right","dx":-13,"dy":-2,"fontSize":21.5,"color":"#0ab4e8"},"encoding":{"text":{"field":"v","type":"quantitative","format":",.0f"}}},
  {"transform":[{"filter":"datum.m==11"}],"mark":{"type":"text","align":"left","dx":13,"dy":-2,"fontSize":21.5,"color":"#0ab4e8"},"encoding":{"text":{"field":"v","type":"quantitative","format":",.0f"}}}]}
],"spacing":0,"bounds":"flush","center":true},
{"width":1200,"height":2,"data":{"values":[{}]},"mark":{"type":"rule","color":"#ebebeb","strokeWidth":2},"encoding":{"y":{"value":1}}},
{"hconcat":[
 {"width":744,"height":80,"data":{"name":"tafla"},"transform":[{"filter":"datum.nr==7"}],"layer":[
  {"mark":{"type":"text","align":"left","dy":4},"encoding":{"x":{"value":0},"text":{"field":"s"}}},
  {"mark":{"type":"text","align":"right","dy":4},"encoding":{"x":{"datum":"2022","bandPosition":1,"scale":{"type":"band","domain":["2022","2023","Breyting"],"paddingInner":0,"paddingOuter":0.7012,"align":1}},"text":{"field":"j22","type":"quantitative","format":",.0f"}}},
  {"mark":{"type":"text","align":"right","dy":4},"encoding":{"x":{"datum":"2023","bandPosition":1},"text":{"field":"j23","type":"quantitative","format":",.0f"}}},
  {"mark":{"type":"text","align":"right","dy":4},"encoding":{"x":{"datum":"Breyting","bandPosition":1},"text":{"field":"b"}}}]},
 {"width":146,"height":28,"data":{"values":[]},"mark":"point"},
 {"width":21,"height":28,"data":{"name":"spark"},"transform":[{"filter":"datum.r==7&&datum.p==1"}],"encoding":{"x":{"field":"m","type":"quantitative","scale":{"domain":[0,11],"reverse":true,"nice":false}},"y":{"field":"v","type":"quantitative","scale":{"zero":true,"nice":false}}},"layer":[
  {"mark":{"type":"area","color":"#ccf0fb","interpolate":"monotone"}},
  {"transform":[{"filter":"datum.m==0"}],"mark":{"type":"rule","color":"#3d3d3d","strokeWidth":3},"encoding":{"x":{"datum":0},"x2":{"datum":11},"y":{"datum":0}}},
  {"mark":{"type":"line","color":"#0ab4e8","strokeWidth":3.5,"interpolate":"monotone"}},
  {"transform":[{"filter":"datum.m==0||datum.m==11"}],"mark":{"type":"circle","color":"#0ab4e8","size":110,"opacity":1}},
  {"transform":[{"filter":"datum.m==0"}],"mark":{"type":"text","align":"right","dx":-13,"dy":-2,"fontSize":21.5,"color":"#0ab4e8"},"encoding":{"text":{"field":"v","type":"quantitative","format":",.0f"}}},
  {"transform":[{"filter":"datum.m==11"}],"mark":{"type":"text","align":"left","dx":13,"dy":-2,"fontSize":21.5,"color":"#0ab4e8"},"encoding":{"text":{"field":"v","type":"quantitative","format":",.0f"}}}]},
 {"width":184,"height":28,"data":{"values":[]},"mark":"point"},
 {"width":65,"height":28,"data":{"name":"spark"},"transform":[{"filter":"datum.r==7&&datum.p==2"}],"encoding":{"x":{"field":"m","type":"quantitative","scale":{"domain":[0,11],"reverse":true,"nice":false}},"y":{"field":"v","type":"quantitative","scale":{"zero":true,"nice":false}}},"layer":[
  {"mark":{"type":"area","color":"#ccf0fb","interpolate":"monotone"}},
  {"transform":[{"filter":"datum.m==0"}],"mark":{"type":"rule","color":"#3d3d3d","strokeWidth":3},"encoding":{"x":{"datum":0},"x2":{"datum":11},"y":{"datum":0}}},
  {"mark":{"type":"line","color":"#0ab4e8","strokeWidth":3.5,"interpolate":"monotone"}},
  {"transform":[{"filter":"datum.m==0||datum.m==11"}],"mark":{"type":"circle","color":"#0ab4e8","size":110,"opacity":1}},
  {"transform":[{"filter":"datum.m==0"}],"mark":{"type":"text","align":"right","dx":-13,"dy":-2,"fontSize":21.5,"color":"#0ab4e8"},"encoding":{"text":{"field":"v","type":"quantitative","format":",.0f"}}},
  {"transform":[{"filter":"datum.m==11"}],"mark":{"type":"text","align":"left","dx":13,"dy":-2,"fontSize":21.5,"color":"#0ab4e8"},"encoding":{"text":{"field":"v","type":"quantitative","format":",.0f"}}}]}
],"spacing":0,"bounds":"flush","center":true},
{"width":1200,"height":2,"data":{"values":[{}]},"mark":{"type":"rule","color":"#ebebeb","strokeWidth":2},"encoding":{"y":{"value":1}}},
{"width":744,"height":116,"data":{"values":[{"t":"Þjóðerni"}]},"mark":{"type":"text","align":"left","fontWeight":"bold","fontSize":28,"dy":24,"color":"#163844"},"encoding":{"x":{"value":0},"text":{"field":"t"}}},
{"width":1200,"height":2,"data":{"values":[{}]},"mark":{"type":"rule","color":"#ebebeb","strokeWidth":2},"encoding":{"y":{"value":1}}},
{"hconcat":[
 {"width":744,"height":80,"data":{"name":"tafla"},"transform":[{"filter":"datum.nr==8"}],"layer":[
  {"mark":{"type":"text","align":"left","dy":4},"encoding":{"x":{"value":0},"text":{"field":"s"}}},
  {"mark":{"type":"text","align":"right","dy":4},"encoding":{"x":{"datum":"2022","bandPosition":1,"scale":{"type":"band","domain":["2022","2023","Breyting"],"paddingInner":0,"paddingOuter":0.7012,"align":1}},"text":{"field":"j22","type":"quantitative","format":",.0f"}}},
  {"mark":{"type":"text","align":"right","dy":4},"encoding":{"x":{"datum":"2023","bandPosition":1},"text":{"field":"j23","type":"quantitative","format":",.0f"}}},
  {"mark":{"type":"text","align":"right","dy":4},"encoding":{"x":{"datum":"Breyting","bandPosition":1},"text":{"field":"b"}}}]},
 {"width":146,"height":28,"data":{"values":[]},"mark":"point"},
 {"width":21,"height":28,"data":{"name":"spark"},"transform":[{"filter":"datum.r==8&&datum.p==1"}],"encoding":{"x":{"field":"m","type":"quantitative","scale":{"domain":[0,11],"reverse":true,"nice":false}},"y":{"field":"v","type":"quantitative","scale":{"zero":true,"nice":false}}},"layer":[
  {"mark":{"type":"area","color":"#ccf0fb","interpolate":"monotone"}},
  {"transform":[{"filter":"datum.m==0"}],"mark":{"type":"rule","color":"#3d3d3d","strokeWidth":3},"encoding":{"x":{"datum":0},"x2":{"datum":11},"y":{"datum":0}}},
  {"mark":{"type":"line","color":"#0ab4e8","strokeWidth":3.5,"interpolate":"monotone"}},
  {"transform":[{"filter":"datum.m==0||datum.m==11"}],"mark":{"type":"circle","color":"#0ab4e8","size":110,"opacity":1}},
  {"transform":[{"filter":"datum.m==0"}],"mark":{"type":"text","align":"right","dx":-13,"dy":-2,"fontSize":21.5,"color":"#0ab4e8"},"encoding":{"text":{"field":"v","type":"quantitative","format":",.0f"}}},
  {"transform":[{"filter":"datum.m==11"}],"mark":{"type":"text","align":"left","dx":13,"dy":-2,"fontSize":21.5,"color":"#0ab4e8"},"encoding":{"text":{"field":"v","type":"quantitative","format":",.0f"}}}]},
 {"width":184,"height":28,"data":{"values":[]},"mark":"point"},
 {"width":65,"height":28,"data":{"name":"spark"},"transform":[{"filter":"datum.r==8&&datum.p==2"}],"encoding":{"x":{"field":"m","type":"quantitative","scale":{"domain":[0,11],"reverse":true,"nice":false}},"y":{"field":"v","type":"quantitative","scale":{"zero":true,"nice":false}}},"layer":[
  {"mark":{"type":"area","color":"#ccf0fb","interpolate":"monotone"}},
  {"transform":[{"filter":"datum.m==0"}],"mark":{"type":"rule","color":"#3d3d3d","strokeWidth":3},"encoding":{"x":{"datum":0},"x2":{"datum":11},"y":{"datum":0}}},
  {"mark":{"type":"line","color":"#0ab4e8","strokeWidth":3.5,"interpolate":"monotone"}},
  {"transform":[{"filter":"datum.m==0||datum.m==11"}],"mark":{"type":"circle","color":"#0ab4e8","size":110,"opacity":1}},
  {"transform":[{"filter":"datum.m==0"}],"mark":{"type":"text","align":"right","dx":-13,"dy":-2,"fontSize":21.5,"color":"#0ab4e8"},"encoding":{"text":{"field":"v","type":"quantitative","format":",.0f"}}},
  {"transform":[{"filter":"datum.m==11"}],"mark":{"type":"text","align":"left","dx":13,"dy":-2,"fontSize":21.5,"color":"#0ab4e8"},"encoding":{"text":{"field":"v","type":"quantitative","format":",.0f"}}}]}
],"spacing":0,"bounds":"flush","center":true},
{"width":1200,"height":2,"data":{"values":[{}]},"mark":{"type":"rule","color":"#ebebeb","strokeWidth":2},"encoding":{"y":{"value":1}}},
{"hconcat":[
 {"width":744,"height":80,"data":{"name":"tafla"},"transform":[{"filter":"datum.nr==9"}],"layer":[
  {"mark":{"type":"text","align":"left","dy":4},"encoding":{"x":{"value":0},"text":{"field":"s"}}},
  {"mark":{"type":"text","align":"right","dy":4},"encoding":{"x":{"datum":"2022","bandPosition":1,"scale":{"type":"band","domain":["2022","2023","Breyting"],"paddingInner":0,"paddingOuter":0.7012,"align":1}},"text":{"field":"j22","type":"quantitative","format":",.0f"}}},
  {"mark":{"type":"text","align":"right","dy":4},"encoding":{"x":{"datum":"2023","bandPosition":1},"text":{"field":"j23","type":"quantitative","format":",.0f"}}},
  {"mark":{"type":"text","align":"right","dy":4},"encoding":{"x":{"datum":"Breyting","bandPosition":1},"text":{"field":"b"}}}]},
 {"width":146,"height":28,"data":{"values":[]},"mark":"point"},
 {"width":21,"height":28,"data":{"name":"spark"},"transform":[{"filter":"datum.r==9&&datum.p==1"}],"encoding":{"x":{"field":"m","type":"quantitative","scale":{"domain":[0,11],"reverse":true,"nice":false}},"y":{"field":"v","type":"quantitative","scale":{"zero":true,"nice":false}}},"layer":[
  {"mark":{"type":"area","color":"#ccf0fb","interpolate":"monotone"}},
  {"transform":[{"filter":"datum.m==0"}],"mark":{"type":"rule","color":"#3d3d3d","strokeWidth":3},"encoding":{"x":{"datum":0},"x2":{"datum":11},"y":{"datum":0}}},
  {"mark":{"type":"line","color":"#0ab4e8","strokeWidth":3.5,"interpolate":"monotone"}},
  {"transform":[{"filter":"datum.m==0||datum.m==11"}],"mark":{"type":"circle","color":"#0ab4e8","size":110,"opacity":1}},
  {"transform":[{"filter":"datum.m==0"}],"mark":{"type":"text","align":"right","dx":-13,"dy":-2,"fontSize":21.5,"color":"#0ab4e8"},"encoding":{"text":{"field":"v","type":"quantitative","format":",.0f"}}},
  {"transform":[{"filter":"datum.m==11"}],"mark":{"type":"text","align":"left","dx":13,"dy":-2,"fontSize":21.5,"color":"#0ab4e8"},"encoding":{"text":{"field":"v","type":"quantitative","format":",.0f"}}}]},
 {"width":184,"height":28,"data":{"values":[]},"mark":"point"},
 {"width":65,"height":28,"data":{"name":"spark"},"transform":[{"filter":"datum.r==9&&datum.p==2"}],"encoding":{"x":{"field":"m","type":"quantitative","scale":{"domain":[0,11],"reverse":true,"nice":false}},"y":{"field":"v","type":"quantitative","scale":{"zero":true,"nice":false}}},"layer":[
  {"mark":{"type":"area","color":"#ccf0fb","interpolate":"monotone"}},
  {"transform":[{"filter":"datum.m==0"}],"mark":{"type":"rule","color":"#3d3d3d","strokeWidth":3},"encoding":{"x":{"datum":0},"x2":{"datum":11},"y":{"datum":0}}},
  {"mark":{"type":"line","color":"#0ab4e8","strokeWidth":3.5,"interpolate":"monotone"}},
  {"transform":[{"filter":"datum.m==0||datum.m==11"}],"mark":{"type":"circle","color":"#0ab4e8","size":110,"opacity":1}},
  {"transform":[{"filter":"datum.m==0"}],"mark":{"type":"text","align":"right","dx":-13,"dy":-2,"fontSize":21.5,"color":"#0ab4e8"},"encoding":{"text":{"field":"v","type":"quantitative","format":",.0f"}}},
  {"transform":[{"filter":"datum.m==11"}],"mark":{"type":"text","align":"left","dx":13,"dy":-2,"fontSize":21.5,"color":"#0ab4e8"},"encoding":{"text":{"field":"v","type":"quantitative","format":",.0f"}}}]}
],"spacing":0,"bounds":"flush","center":true},
{"width":1200,"height":2,"data":{"values":[{}]},"mark":{"type":"rule","color":"#ebebeb","strokeWidth":2},"encoding":{"y":{"value":1}}}
]
}
